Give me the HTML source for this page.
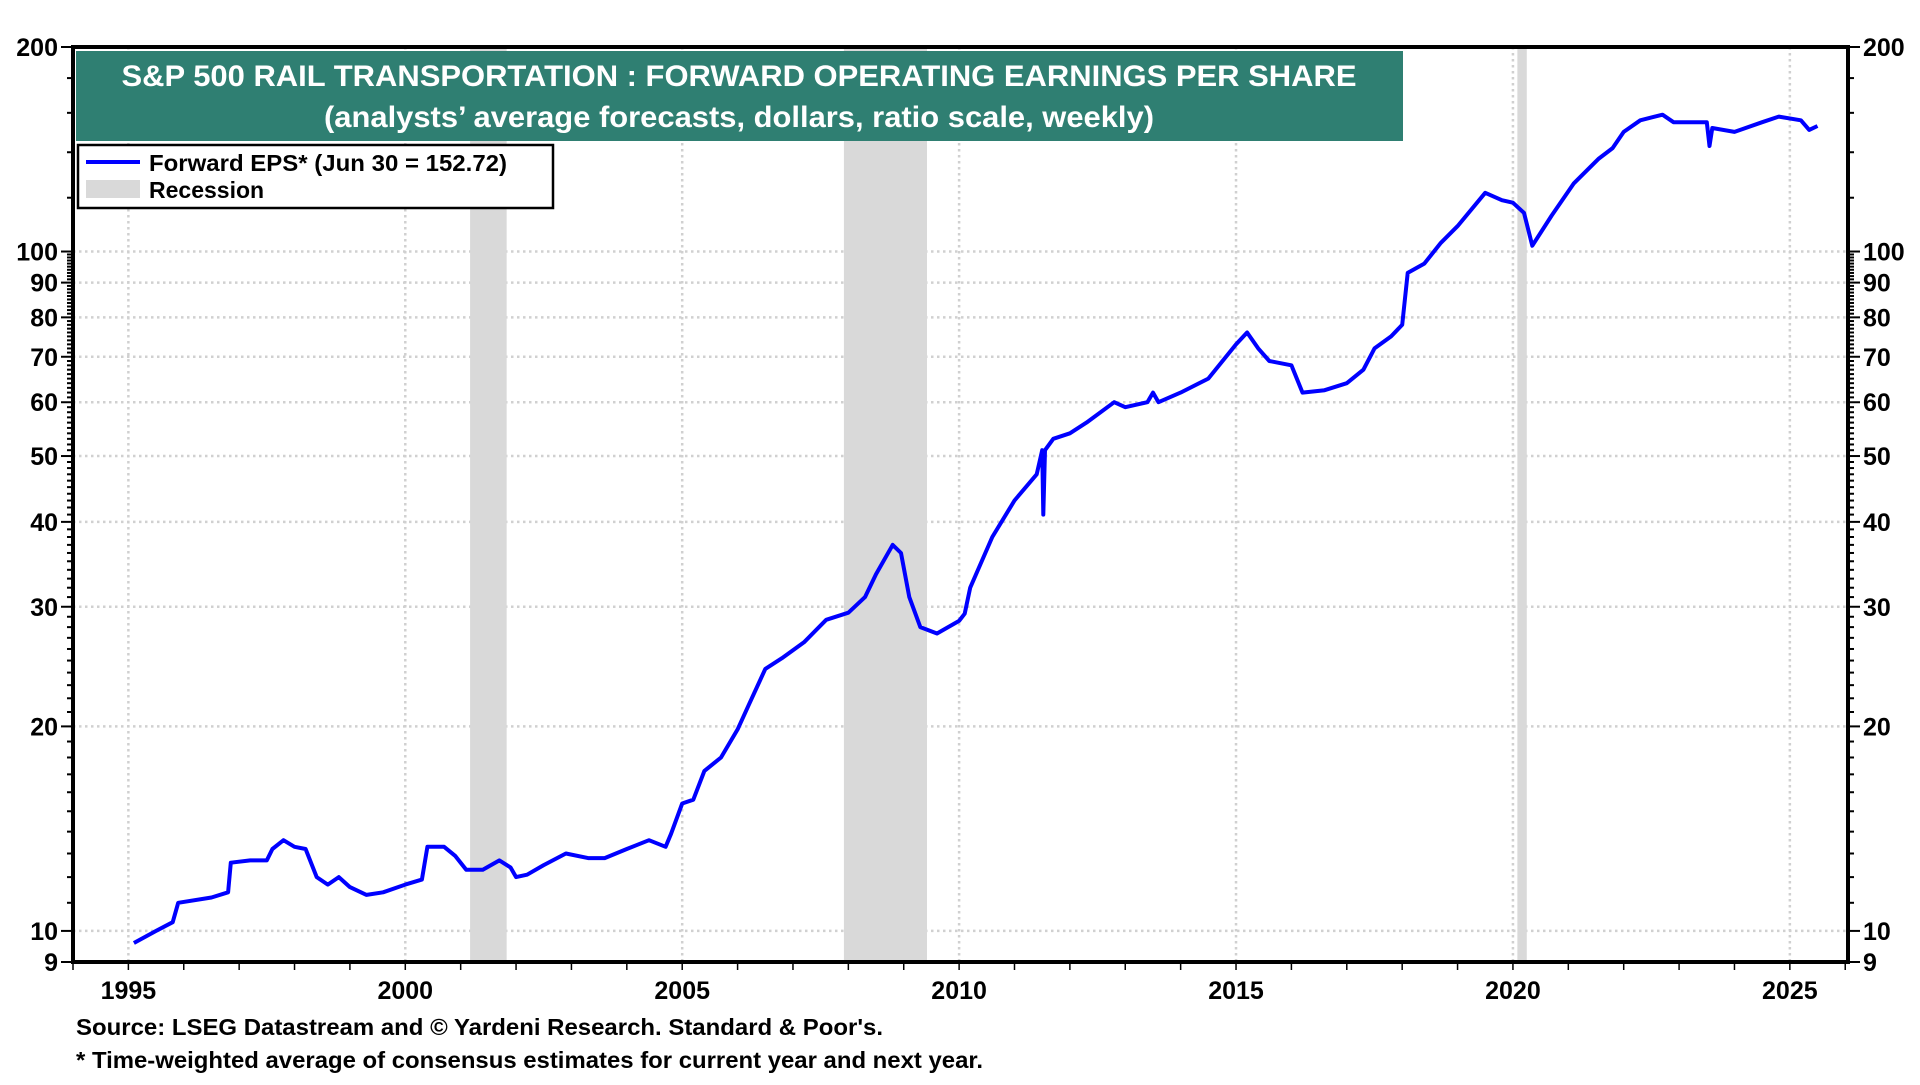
<!DOCTYPE html>
<html><head><meta charset="utf-8"><style>
html,body{margin:0;padding:0;background:#fff;}
body{width:1920px;height:1080px;overflow:hidden;font-family:"Liberation Sans",Arial,sans-serif;}
</style></head><body>
<svg id="chart" width="1920" height="1080" xmlns="http://www.w3.org/2000/svg" font-family="Liberation Sans, Arial, sans-serif" font-weight="bold">
<g id="grid"></g>
<g id="rec"></g>
<g id="series"></g>
<g id="axes"></g>
<rect x="76" y="51" width="1327" height="90" fill="#2F7F72"/>
<text x="739" y="86" text-anchor="middle" fill="#fff" font-size="30" textLength="1235" lengthAdjust="spacingAndGlyphs">S&amp;P 500 RAIL TRANSPORTATION : FORWARD OPERATING EARNINGS PER SHARE</text>
<text x="739" y="127" text-anchor="middle" fill="#fff" font-size="30" textLength="830" lengthAdjust="spacingAndGlyphs">(analysts’ average forecasts, dollars, ratio scale, weekly)</text>
<g>
<rect x="78" y="145" width="475" height="63" fill="#fff" stroke="#000" stroke-width="2.5"/>
<line x1="86" y1="162" x2="140" y2="162" stroke="#0000ff" stroke-width="4"/>
<text x="149" y="171" font-size="23" textLength="358" lengthAdjust="spacingAndGlyphs">Forward EPS* (Jun 30 = 152.72)</text>
<rect x="86" y="180" width="54" height="18" fill="#d9d9d9"/>
<text x="149" y="198" font-size="23">Recession</text>
</g>
<text x="76" y="1035" font-size="23" textLength="807" lengthAdjust="spacingAndGlyphs">Source: LSEG Datastream and © Yardeni Research. Standard &amp; Poor's.</text>
<text x="76" y="1068" font-size="23" textLength="907" lengthAdjust="spacingAndGlyphs">* Time-weighted average of consensus estimates for current year and next year.</text>
</svg>
<script>
const years=[1995.1,1995.5,1995.8,1995.9,1996.5,1996.8,1996.85,1997.2,1997.5,1997.6,1997.8,1998.0,1998.2,1998.4,1998.6,1998.8,1999.0,1999.3,1999.6,2000.0,2000.3,2000.4,2000.7,2000.9,2001.1,2001.4,2001.7,2001.9,2002.0,2002.2,2002.5,2002.9,2003.3,2003.6,2004.0,2004.4,2004.7,2004.8,2005.0,2005.2,2005.4,2005.7,2006.0,2006.2,2006.5,2006.8,2007.2,2007.6,2008.0,2008.3,2008.5,2008.8,2008.95,2009.1,2009.3,2009.6,2010.0,2010.1,2010.2,2010.6,2011.0,2011.4,2011.5,2011.52,2011.55,2011.7,2012.0,2012.3,2012.8,2013.0,2013.4,2013.5,2013.6,2014.0,2014.5,2015.0,2015.2,2015.4,2015.6,2016.0,2016.2,2016.6,2017.0,2017.3,2017.5,2017.8,2018.0,2018.1,2018.4,2018.7,2019.0,2019.5,2019.8,2020.0,2020.2,2020.35,2020.7,2021.1,2021.55,2021.8,2022.0,2022.3,2022.7,2022.9,2023.5,2023.55,2023.6,2024.0,2024.5,2024.8,2025.2,2025.35,2025.5];
const eps=[9.6,10.0,10.3,11.0,11.2,11.4,12.6,12.7,12.7,13.2,13.6,13.3,13.2,12.0,11.7,12.0,11.6,11.3,11.4,11.7,11.9,13.3,13.3,12.9,12.3,12.3,12.7,12.4,12.0,12.1,12.5,13.0,12.8,12.8,13.2,13.6,13.3,13.9,15.4,15.6,17.2,18.0,19.8,21.5,24.3,25.2,26.6,28.7,29.4,31.0,33.5,37.0,36.0,31.0,28.0,27.4,28.6,29.3,32,38,43,47,51,41,51,53,54,56,60,59,60,62,60,62,65,73,76,72,69,68,62,62.5,64,67,72,75,78,93,96,103,109,122,119,118,114,102,113,126,137,142,150,156,159,155,155,143,152,150,155,158,156,151,153];
const recStart=[2001.17,2007.92,2020.08];
const recEnd=[2001.83,2009.42,2020.25];
const yTickVals=[9,10,20,30,40,50,60,70,80,90,100,200];
const xTickLabels=[1995,2000,2005,2010,2015,2020,2025];
const NS="http://www.w3.org/2000/svg";
const L=73,R=1848,T=47,B=962,X0=1994,X1=2026.05,VMIN=9,VMAX=200;
const x=t=>L+(t-X0)/(X1-X0)*(R-L);
const y=v=>B-(Math.log10(v)-Math.log10(VMIN))/(Math.log10(VMAX)-Math.log10(VMIN))*(B-T);
function mk(tag,a,p){const e=document.createElementNS(NS,tag);for(const k in a)e.setAttribute(k,a[k]);p.appendChild(e);return e;}
const grid=document.getElementById('grid'),rec=document.getElementById('rec'),ser=document.getElementById('series'),ax=document.getElementById('axes');
[10,20,30,40,50,60,70,80,90,100].forEach(v=>{const e=mk('line',{x1:L,x2:R,y1:y(v),y2:y(v),stroke:'#d0d0d0','stroke-width':2.5,'stroke-dasharray':'2.5,3.5'},grid);

});
xTickLabels.forEach(t=>{const e=mk('line',{x1:x(t),x2:x(t),y1:T,y2:B,stroke:'#d0d0d0','stroke-width':2.5,'stroke-dasharray':'2.5,3.5'},grid);

});
recStart.forEach((s,i)=>{const e=mk('rect',{x:x(s),y:T,width:x(recEnd[i])-x(s),height:B-T,fill:'#d9d9d9'},rec);

});
const d=years.map((t,i)=>(i?'L':'M')+x(t).toFixed(1)+','+y(eps[i]).toFixed(1)).join('');
const p=mk('path',{d:d,fill:'none',stroke:'#0000ff','stroke-width':4,'stroke-linejoin':'round'},ser);


mk('rect',{x:L,y:T,width:R-L,height:B-T,fill:'none',stroke:'#000','stroke-width':4},ax);
const minor=[];for(let v=9;v<=100;v++)minor.push(v);[120,140,160,180,200].forEach(v=>minor.push(v));
minor.forEach(v=>{const big=yTickVals.includes(v);const len=big?12:6;
mk('line',{x1:L-len,x2:L,y1:y(v),y2:y(v),stroke:'#000','stroke-width':2},ax);
mk('line',{x1:R,x2:R+len,y1:y(v),y2:y(v),stroke:'#000','stroke-width':2},ax);});
yTickVals.forEach(v=>{const a=mk('text',{x:L-15,y:y(v)+9,'text-anchor':'end','font-size':25},ax);a.textContent=v;


const b=mk('text',{x:R+15,y:y(v)+9,'font-size':25},ax);b.textContent=v;

});
for(let t=1994;t<=2026;t++){mk('line',{x1:x(t),x2:x(t),y1:B,y2:B+8,stroke:'#000','stroke-width':1.5},ax);}
xTickLabels.forEach(t=>{const e=mk('text',{x:x(t),y:999,'text-anchor':'middle','font-size':25},ax);e.textContent=t;

});
</script>
</body></html>
